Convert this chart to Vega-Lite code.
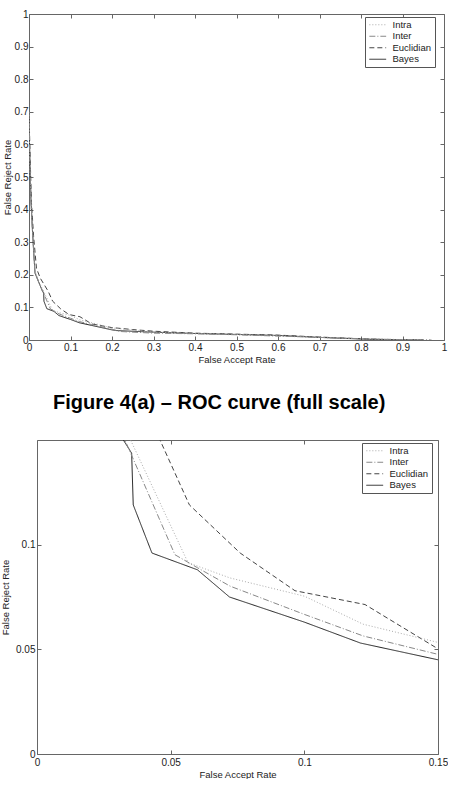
{
  "$schema": "https://vega.github.io/schema/vega-lite/v6.json",
  "padding": {"left": 0, "top": 8, "right": 0, "bottom": 0},
  "background": "white",
  "spacing": 26,
  "align": "none",
  "config": {
    "font": "Liberation Sans",
    "view": {"stroke": "#666", "strokeWidth": 1},
    "axis": {"grid": false, "domain": false, "domainColor": "#666", "domainWidth": 1, "tickColor": "#666", "tickSize": -4, "labelFlush": false, "labelFontSize": 10, "labelColor": "#222", "titleFontSize": 9.5, "titleFontWeight": "normal", "titleColor": "#222", "labelFont": "Liberation Sans", "titleFont": "Liberation Sans"},
    "legend": {"title": null, "strokeColor": "#555", "fillColor": "white", "padding": 3, "labelFontSize": 9.5, "labelFont": "Liberation Sans", "labelColor": "#222", "symbolType": "M-2.8,0H2.8", "symbolSize": 36, "symbolStrokeWidth": 1, "rowPadding": 0.5, "symbolOffset": 5, "labelOffset": 10},
    "line": {"strokeWidth": 1}
  },
  "datasets": {
    "roc": [
      {"method": "Bayes", "far": 0, "frr": 0.70},
      {"method": "Bayes", "far": 0.002, "frr": 0.55},
      {"method": "Bayes", "far": 0.005, "frr": 0.42},
      {"method": "Bayes", "far": 0.009, "frr": 0.32},
      {"method": "Bayes", "far": 0.0145, "frr": 0.205},
      {"method": "Bayes", "far": 0.0323, "frr": 0.15},
      {"method": "Bayes", "far": 0.0354, "frr": 0.1437},
      {"method": "Bayes", "far": 0.036, "frr": 0.119},
      {"method": "Bayes", "far": 0.043, "frr": 0.096},
      {"method": "Bayes", "far": 0.06, "frr": 0.088},
      {"method": "Bayes", "far": 0.072, "frr": 0.075},
      {"method": "Bayes", "far": 0.1, "frr": 0.063},
      {"method": "Bayes", "far": 0.121, "frr": 0.053},
      {"method": "Bayes", "far": 0.15, "frr": 0.045},
      {"method": "Bayes", "far": 0.2, "frr": 0.031},
      {"method": "Bayes", "far": 0.21, "frr": 0.029},
      {"method": "Bayes", "far": 0.3, "frr": 0.024},
      {"method": "Bayes", "far": 0.4, "frr": 0.02},
      {"method": "Bayes", "far": 0.5, "frr": 0.017},
      {"method": "Bayes", "far": 0.6, "frr": 0.014},
      {"method": "Bayes", "far": 0.7, "frr": 0.008},
      {"method": "Bayes", "far": 0.8, "frr": 0.003},
      {"method": "Bayes", "far": 0.85, "frr": 0.001},
      {"method": "Bayes", "far": 0.95, "frr": 0},
      {"method": "Euclidian", "far": 0, "frr": 0.70},
      {"method": "Euclidian", "far": 0.003, "frr": 0.55},
      {"method": "Euclidian", "far": 0.006, "frr": 0.42},
      {"method": "Euclidian", "far": 0.011, "frr": 0.32},
      {"method": "Euclidian", "far": 0.018, "frr": 0.22},
      {"method": "Euclidian", "far": 0.027, "frr": 0.19},
      {"method": "Euclidian", "far": 0.046, "frr": 0.15},
      {"method": "Euclidian", "far": 0.057, "frr": 0.119},
      {"method": "Euclidian", "far": 0.076, "frr": 0.096},
      {"method": "Euclidian", "far": 0.0965, "frr": 0.078},
      {"method": "Euclidian", "far": 0.1227, "frr": 0.0714},
      {"method": "Euclidian", "far": 0.149, "frr": 0.051},
      {"method": "Euclidian", "far": 0.152, "frr": 0.049},
      {"method": "Euclidian", "far": 0.2, "frr": 0.038},
      {"method": "Euclidian", "far": 0.25, "frr": 0.032},
      {"method": "Euclidian", "far": 0.3, "frr": 0.027},
      {"method": "Euclidian", "far": 0.4, "frr": 0.021},
      {"method": "Euclidian", "far": 0.5, "frr": 0.018},
      {"method": "Euclidian", "far": 0.6, "frr": 0.015},
      {"method": "Euclidian", "far": 0.7, "frr": 0.009},
      {"method": "Euclidian", "far": 0.8, "frr": 0.004},
      {"method": "Euclidian", "far": 0.85, "frr": 0.002},
      {"method": "Euclidian", "far": 0.9, "frr": 0.001},
      {"method": "Euclidian", "far": 0.95, "frr": 0},
      {"method": "Intra", "far": 0, "frr": 0.70},
      {"method": "Intra", "far": 0.002, "frr": 0.55},
      {"method": "Intra", "far": 0.005, "frr": 0.42},
      {"method": "Intra", "far": 0.009, "frr": 0.32},
      {"method": "Intra", "far": 0.015, "frr": 0.21},
      {"method": "Intra", "far": 0.025, "frr": 0.175},
      {"method": "Intra", "far": 0.035, "frr": 0.15},
      {"method": "Intra", "far": 0.0565, "frr": 0.0914},
      {"method": "Intra", "far": 0.0722, "frr": 0.0841},
      {"method": "Intra", "far": 0.1, "frr": 0.0754},
      {"method": "Intra", "far": 0.122, "frr": 0.062},
      {"method": "Intra", "far": 0.15, "frr": 0.0533},
      {"method": "Intra", "far": 0.2, "frr": 0.037},
      {"method": "Intra", "far": 0.25, "frr": 0.03},
      {"method": "Intra", "far": 0.3, "frr": 0.024},
      {"method": "Intra", "far": 0.4, "frr": 0.02},
      {"method": "Intra", "far": 0.5, "frr": 0.017},
      {"method": "Intra", "far": 0.6, "frr": 0.013},
      {"method": "Intra", "far": 0.7, "frr": 0.008},
      {"method": "Intra", "far": 0.8, "frr": 0.004},
      {"method": "Intra", "far": 0.9, "frr": 0.001},
      {"method": "Intra", "far": 0.97, "frr": 0},
      {"method": "Inter", "far": 0, "frr": 0.70},
      {"method": "Inter", "far": 0.002, "frr": 0.55},
      {"method": "Inter", "far": 0.005, "frr": 0.42},
      {"method": "Inter", "far": 0.009, "frr": 0.32},
      {"method": "Inter", "far": 0.014, "frr": 0.21},
      {"method": "Inter", "far": 0.024, "frr": 0.175},
      {"method": "Inter", "far": 0.0329, "frr": 0.15},
      {"method": "Inter", "far": 0.0516, "frr": 0.0952},
      {"method": "Inter", "far": 0.06, "frr": 0.089},
      {"method": "Inter", "far": 0.0722, "frr": 0.0802},
      {"method": "Inter", "far": 0.1, "frr": 0.0667},
      {"method": "Inter", "far": 0.122, "frr": 0.0564},
      {"method": "Inter", "far": 0.15, "frr": 0.0476},
      {"method": "Inter", "far": 0.2, "frr": 0.033},
      {"method": "Inter", "far": 0.22, "frr": 0.026},
      {"method": "Inter", "far": 0.3, "frr": 0.021},
      {"method": "Inter", "far": 0.4, "frr": 0.019},
      {"method": "Inter", "far": 0.5, "frr": 0.016},
      {"method": "Inter", "far": 0.6, "frr": 0.012},
      {"method": "Inter", "far": 0.7, "frr": 0.008},
      {"method": "Inter", "far": 0.8, "frr": 0.004},
      {"method": "Inter", "far": 0.9, "frr": 0.001},
      {"method": "Inter", "far": 0.97, "frr": 0}
    ]
  },
  "resolve": {
    "scale": {"color": "independent", "strokeDash": "independent"},
    "legend": {"color": "independent", "strokeDash": "independent"}
  },
  "vconcat": [
    {
      "width": 415,
      "height": 326,
      "title": {"text": "Figure 4(a) – ROC curve (full scale)", "orient": "bottom", "anchor": "start", "frame": "group", "dx": 24, "offset": 45, "baseline": "alphabetic", "fontSize": 20, "fontWeight": "bold", "font": "Liberation Sans", "color": "black"},
      "data": {"name": "roc"},
      "resolve": {"axis": {"x": "independent", "y": "independent"}},
      "layer": [
        {
          "mark": {"type": "line", "clip": true},
          "encoding": {
            "x": {"field": "far", "type": "quantitative", "scale": {"domain": [0, 1], "nice": false, "zero": false},
                  "axis": {"orient": "bottom", "title": "False Accept Rate", "values": [0, 0.1, 0.2, 0.3, 0.4, 0.5, 0.6, 0.7, 0.8, 0.9, 1], "format": ".2~g", "labelPadding": 6, "titlePadding": 2}},
            "y": {"field": "frr", "type": "quantitative", "scale": {"domain": [0, 1], "nice": false, "zero": false},
                  "axis": {"orient": "left", "title": "False Reject Rate", "values": [0, 0.1, 0.2, 0.3, 0.4, 0.5, 0.6, 0.7, 0.8, 0.9, 1], "format": ".2~g", "labelPadding": 5, "titlePadding": 2}},
            "color": {"field": "method", "type": "nominal", "scale": {"domain": ["Intra", "Inter", "Euclidian", "Bayes"], "range": ["#aaaaaa", "#888888", "#444444", "#222222"]},
                      "legend": {"orient": "none", "legendX": 336, "legendY": 3}},
            "strokeDash": {"field": "method", "type": "nominal", "scale": {"domain": ["Intra", "Inter", "Euclidian", "Bayes"], "range": [[1, 2], [6, 2, 1, 2], [5, 3], [1, 0]]},
                      "legend": {"orient": "none", "legendX": 336, "legendY": 3}}
          }
        },
        {
          "mark": {"type": "point", "opacity": 0, "clip": true},
          "encoding": {
            "x": {"field": "far", "type": "quantitative", "axis": {"orient": "top", "labels": false, "title": null, "values": [0, 0.1, 0.2, 0.3, 0.4, 0.5, 0.6, 0.7, 0.8, 0.9, 1]}},
            "y": {"field": "frr", "type": "quantitative", "axis": {"orient": "right", "labels": false, "title": null, "values": [0, 0.1, 0.2, 0.3, 0.4, 0.5, 0.6, 0.7, 0.8, 0.9, 1]}}
          }
        }
      ]
    },
    {
      "width": 409,
      "height": 314,
      "view": {"stroke": null},
      "data": {"name": "roc"},
      "resolve": {"axis": {"x": "independent", "y": "independent"}},
      "layer": [
        {
          "mark": {"type": "line", "clip": true},
          "encoding": {
            "x": {"field": "far", "type": "quantitative", "scale": {"domain": [0, 0.15], "range": [8, 409], "nice": false, "zero": false},
                  "axis": {"orient": "bottom", "domain": true, "title": "False Accept Rate", "values": [0, 0.05, 0.1, 0.15], "format": ".2~g", "labelPadding": 7, "titlePadding": 2}},
            "y": {"field": "frr", "type": "quantitative", "scale": {"domain": [0, 0.15], "nice": false, "zero": false},
                  "axis": {"orient": "left", "offset": -8, "domain": true, "title": "False Reject Rate", "values": [0, 0.05, 0.1], "format": ".2~g", "labelPadding": 6, "titlePadding": 5}},
            "color": {"field": "method", "type": "nominal", "scale": {"domain": ["Intra", "Inter", "Euclidian", "Bayes"], "range": ["#aaaaaa", "#888888", "#444444", "#222222"]},
                      "legend": {"orient": "none", "legendX": 333, "legendY": 3}},
            "strokeDash": {"field": "method", "type": "nominal", "scale": {"domain": ["Intra", "Inter", "Euclidian", "Bayes"], "range": [[1, 2], [6, 2, 1, 2], [5, 3], [1, 0]]},
                      "legend": {"orient": "none", "legendX": 333, "legendY": 3}}
          }
        },
        {
          "mark": {"type": "point", "opacity": 0, "clip": true},
          "encoding": {
            "x": {"field": "far", "type": "quantitative", "axis": {"orient": "top", "domain": true, "labels": false, "title": null, "values": [0, 0.05, 0.1, 0.15]}},
            "y": {"field": "frr", "type": "quantitative", "axis": {"orient": "right", "domain": true, "labels": false, "title": null, "values": [0, 0.05, 0.1]}}
          }
        }
      ]
    }
  ]
}
